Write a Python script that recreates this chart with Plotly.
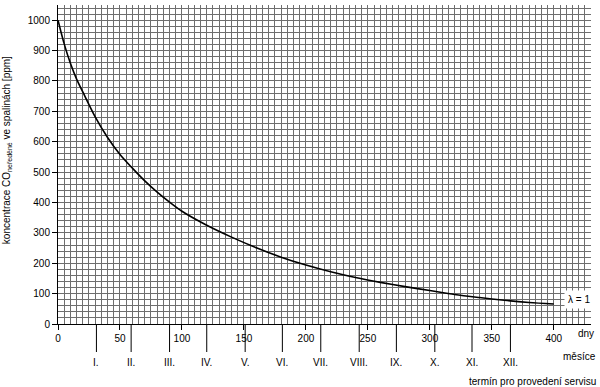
import plotly.graph_objects as go

# curve (days, ppm)
days = [0, 5, 10, 15, 20, 30, 40, 50, 60, 70, 80, 90, 100, 120, 140, 160, 180,
        200, 220, 240, 260, 280, 300, 320, 340, 360, 380, 400]
ppm = [1000, 922, 858, 806, 764, 682, 614, 558, 513, 471, 434, 401, 371, 325,
       286, 251, 220, 194, 172, 153, 137, 123, 110, 97, 87, 78, 71, 66]

x_ticks = [0, 50, 100, 150, 200, 250, 300, 350, 400]
y_ticks = [0, 100, 200, 300, 400, 500, 600, 700, 800, 900, 1000]
month_days = [31, 59, 90, 120, 151, 181, 212, 243, 273, 304, 334, 365]
month_labels = ["I.", "II.", "III.", "IV.", "V.", "VI.", "VII.", "VIII.",
                "IX.", "X.", "XI.", "XII."]
curve_label = "λ = 1"
label_pos = (408, 80)

FONT = "Liberation Sans, Arial, sans-serif"
GRID = "#6e6e6e"
FS = 10

fig = go.Figure()
fig.add_trace(go.Scatter(x=days, y=ppm, mode="lines",
                         line=dict(color="black", width=1.6, shape="spline",
                                   smoothing=0.8),
                         hoverinfo="skip", showlegend=False))

plot_h = 387 - 5 - 63
shapes = []
annotations = []
for d, lab in zip(month_days, month_labels):
    shapes.append(dict(type="line", xref="x", yref="paper", x0=d, x1=d,
                       y0=0, y1=-28 / plot_h, line=dict(color="black", width=1)))
    annotations.append(dict(x=d, y=-38 / plot_h, xref="x", yref="paper",
                            text=lab, showarrow=False, yanchor="middle",
                            xanchor="center", font=dict(size=FS, color="black")))

annotations.append(dict(x=label_pos[0], y=label_pos[1], xref="x", yref="y",
                        text=curve_label, showarrow=False, bgcolor="white",
                        borderpad=3, xanchor="left", yanchor="middle",
                        font=dict(size=FS, color="black")))
annotations.append(dict(x=1.0, y=-9 / plot_h, xref="paper", yref="paper",
                        text="dny", showarrow=False, xanchor="right",
                        yanchor="middle", font=dict(size=FS, color="black"),
                        xshift=5))
annotations.append(dict(x=1.0, y=-32 / plot_h, xref="paper", yref="paper",
                        text="měsíce", showarrow=False, xanchor="right",
                        yanchor="middle", font=dict(size=FS, color="black"),
                        xshift=7))
annotations.append(dict(x=1.0, y=-57 / plot_h, xref="paper", yref="paper",
                        text="termín pro provedení servisu", showarrow=False,
                        xanchor="right", yanchor="middle",
                        font=dict(size=FS, color="black"), xshift=7))
annotations.append(dict(x=-51 / 533, y=0.545, xref="paper", yref="paper",
                        text="koncentrace CO<sub>neředěné</sub> ve spalinách [ppm]",
                        showarrow=False, textangle=-90, xanchor="center",
                        yanchor="middle", font=dict(size=FS, color="black")))

fig.update_layout(
    width=600, height=387,
    margin=dict(l=58, r=9, t=5, b=63),
    paper_bgcolor="white", plot_bgcolor="white",
    font=dict(family=FONT, size=FS, color="black"),
    shapes=shapes, annotations=annotations,
    xaxis=dict(range=[0, 430], tickmode="array", tickvals=x_ticks,
               ticktext=[str(v) for v in x_ticks],
               showgrid=True, gridcolor=GRID, gridwidth=1,
               minor=dict(tickmode="linear", tick0=0, dtick=5, showgrid=True,
                          gridcolor=GRID, gridwidth=1, ticks=""),
               showline=True, linecolor="black", linewidth=1,
               ticks="outside", ticklen=5, tickcolor="black",
               zeroline=False, fixedrange=True),
    yaxis=dict(range=[0, 1050], tickmode="array", tickvals=y_ticks,
               ticktext=[str(v) for v in y_ticks],
               showgrid=True, gridcolor=GRID, gridwidth=1,
               minor=dict(tickmode="linear", tick0=0, dtick=20, showgrid=True,
                          gridcolor=GRID, gridwidth=1, ticks=""),
               showline=True, linecolor="black", linewidth=1,
               ticks="outside", ticklen=5, tickcolor="black",
               zeroline=False, fixedrange=True),
)

fig.write_html("out.html", config={"displayModeBar": False},
               post_script="document.body.style.margin='0';"
                           "document.body.style.overflow='hidden';")
